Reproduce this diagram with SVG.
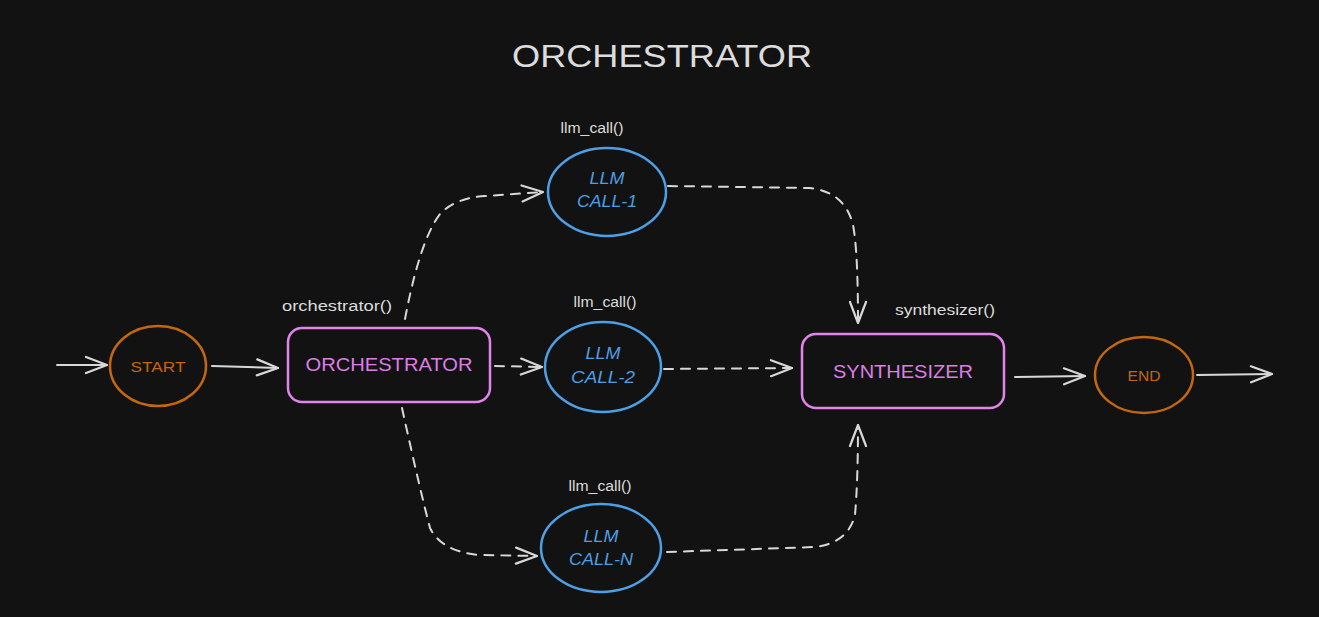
<svg xmlns="http://www.w3.org/2000/svg" width="1319" height="617" viewBox="0 0 1319 617">
<style>
.bg{fill:#121212}
.t{font-family:"Liberation Sans","DejaVu Sans",sans-serif;text-anchor:middle;dominant-baseline:central}
.title{fill:#dcdcdc;font-size:32px}
.lbl{fill:#dcdcdc;font-size:14px}
.term{fill:none;stroke:#c4670d;stroke-width:2.5}
.termt{fill:#c4670d;font-size:15px}
.box{fill:none;stroke:#e383ec;stroke-width:2.5}
.boxt{fill:#dd7ee6;font-size:19px}
.llm{fill:none;stroke:#4d9fe6;stroke-width:2.5}
.llmt{fill:#4d9fe6;font-size:17px;font-style:italic}
.c{fill:none;stroke:#d8d8d8;stroke-width:2;stroke-linecap:round}
.d{stroke-dasharray:9 8}
</style>
<defs>
<marker id="ah" viewBox="0 0 24 20" refX="23" refY="10" markerWidth="24" markerHeight="20" markerUnits="userSpaceOnUse" orient="auto">
<path d="M2,2 L23,10 L2,18" fill="none" stroke="#d8d8d8" stroke-width="2.2" stroke-linecap="round" stroke-linejoin="round"/>
</marker>
</defs>
<rect class="bg" x="0" y="0" width="1319" height="617"/>
<text class="t title" x="662" y="56" textLength="300" lengthAdjust="spacingAndGlyphs">ORCHESTRATOR</text>
<g id="connectors">
<path class="c" d="M57,365 L107,365" marker-end="url(#ah)"/>
<path class="c" d="M212,366 L278,368" marker-end="url(#ah)"/>
<path class="c d" d="M405,319 Q420,240 440,214 Q455,198 485,196 L543,192" marker-end="url(#ah)"/>
<path class="c d" d="M495,366 L542,367" marker-end="url(#ah)"/>
<path class="c d" d="M402,408 Q420,490 430,528 Q442,552 480,555 L537,556" marker-end="url(#ah)"/>
<path class="c d" d="M668,186 L810,188 Q845,192 853,225 Q858,250 858,323" marker-end="url(#ah)"/>
<path class="c d" d="M664,369 L792,368" marker-end="url(#ah)"/>
<path class="c d" d="M667,552 L815,547 Q848,543 855,515 Q858,480 858,425" marker-end="url(#ah)"/>
<path class="c" d="M1015,377 L1085,376" marker-end="url(#ah)"/>
<path class="c" d="M1197,375 L1272,374" marker-end="url(#ah)"/>
</g>
<g id="start">
<ellipse class="term" cx="158" cy="366" rx="48" ry="40"/>
<text class="t termt" x="158" y="366" textLength="55" lengthAdjust="spacingAndGlyphs">START</text>
</g>
<g id="orchestrator">
<rect class="box" x="288" y="328" width="202" height="74" rx="14"/>
<text class="t boxt" x="389" y="364" textLength="167" lengthAdjust="spacingAndGlyphs">ORCHESTRATOR</text>
<text class="t lbl" x="337" y="306" textLength="110" lengthAdjust="spacingAndGlyphs">orchestrator()</text>
</g>
<g id="llm1">
<ellipse class="llm" cx="607" cy="192" rx="59" ry="44"/>
<text class="t llmt" x="607" y="178" textLength="35" lengthAdjust="spacingAndGlyphs">LLM</text>
<text class="t llmt" x="607" y="201" textLength="60" lengthAdjust="spacingAndGlyphs">CALL-1</text>
<text class="t lbl" x="592" y="128" textLength="63" lengthAdjust="spacingAndGlyphs">llm_call()</text>
</g>
<g id="llm2">
<ellipse class="llm" cx="603" cy="367" rx="58" ry="45"/>
<text class="t llmt" x="603" y="353" textLength="35" lengthAdjust="spacingAndGlyphs">LLM</text>
<text class="t llmt" x="603" y="377" textLength="64" lengthAdjust="spacingAndGlyphs">CALL-2</text>
<text class="t lbl" x="605" y="302" textLength="63" lengthAdjust="spacingAndGlyphs">llm_call()</text>
</g>
<g id="llmn">
<ellipse class="llm" cx="601" cy="548" rx="60" ry="44"/>
<text class="t llmt" x="601" y="536" textLength="35" lengthAdjust="spacingAndGlyphs">LLM</text>
<text class="t llmt" x="601" y="559" textLength="64" lengthAdjust="spacingAndGlyphs">CALL-N</text>
<text class="t lbl" x="600" y="486" textLength="63" lengthAdjust="spacingAndGlyphs">llm_call()</text>
</g>
<g id="synthesizer">
<rect class="box" x="802" y="334" width="202" height="74" rx="14"/>
<text class="t boxt" x="903" y="371" textLength="140" lengthAdjust="spacingAndGlyphs">SYNTHESIZER</text>
<text class="t lbl" x="945" y="310" textLength="100" lengthAdjust="spacingAndGlyphs">synthesizer()</text>
</g>
<g id="end">
<ellipse class="term" cx="1144" cy="375" rx="49" ry="38"/>
<text class="t termt" x="1144" y="375" textLength="33" lengthAdjust="spacingAndGlyphs">END</text>
</g>
</svg>
